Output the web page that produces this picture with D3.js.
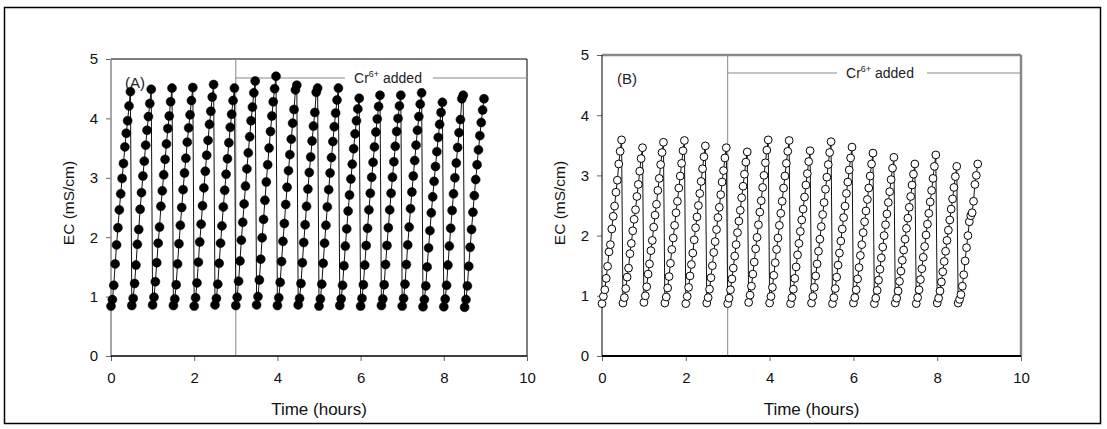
<!DOCTYPE html>
<html><head><meta charset="utf-8">
<script src="https://cdn.jsdelivr.net/npm/d3@7"></script>
<style>body{margin:0;background:#fff} text{font-family:Arial,"Liberation Sans",sans-serif}</style>
</head><body><svg id="c" width="1107" height="429"></svg>
<script>
// ---- data ----
const cycleStartHours = [0,0.5,1,1.5,2,2.5,3,3.5,4,4.5,5,5.5,6,6.5,7,7.5,8,8.5];
const sampleMinutes = [0,2,4,6,8,10,12,14,16,18,20,22,24,26,28];
const xTicks = [0,2,4,6,8,10];
const yTicks = [0,1,2,3,4,5];
const crAddedHour = 3;

// Panel A: EC (mS/cm), one row per cycle
const ecA = [
 [0.84,0.95,1.19,1.55,1.87,2.16,2.46,2.73,2.99,3.24,3.52,3.75,3.96,4.21,4.45],
 [0.85,0.97,1.22,1.53,1.88,2.13,2.47,2.75,3.03,3.28,3.55,3.80,4.03,4.25,4.49],
 [0.86,0.99,1.25,1.57,1.90,2.17,2.52,2.78,3.05,3.31,3.57,3.83,4.04,4.28,4.51],
 [0.85,0.96,1.20,1.55,1.89,2.20,2.50,2.80,3.08,3.33,3.60,3.84,4.06,4.30,4.52],
 [0.84,0.98,1.23,1.58,1.92,2.22,2.53,2.83,3.11,3.38,3.63,3.90,4.12,4.36,4.57],
 [0.86,0.97,1.21,1.56,1.90,2.19,2.51,2.79,3.06,3.32,3.59,3.85,4.07,4.30,4.51],
 [0.85,0.99,1.26,1.60,1.95,2.25,2.56,2.86,3.15,3.42,3.69,3.96,4.19,4.43,4.63],
 [0.86,1.00,1.28,1.63,1.99,2.30,2.62,2.93,3.22,3.50,3.78,4.04,4.28,4.50,4.71],
 [0.85,0.98,1.24,1.59,1.93,2.23,2.55,2.84,3.12,3.39,3.65,3.92,4.15,4.48,4.56],
 [0.86,0.97,1.22,1.57,1.91,2.21,2.52,2.81,3.09,3.35,3.62,3.87,4.10,4.44,4.51],
 [0.84,0.96,1.21,1.56,1.90,2.20,2.51,2.80,3.08,3.34,3.61,3.86,4.09,4.31,4.51],
 [0.85,0.96,1.19,1.52,1.85,2.14,2.44,2.71,2.98,3.23,3.49,3.74,3.96,4.16,4.34],
 [0.84,0.97,1.20,1.53,1.86,2.15,2.46,2.74,3.01,3.26,3.52,3.77,3.99,4.20,4.39],
 [0.85,0.96,1.20,1.54,1.86,2.16,2.46,2.74,3.01,3.27,3.53,3.78,4.00,4.21,4.39],
 [0.84,0.97,1.21,1.54,1.87,2.17,2.48,2.76,3.03,3.29,3.55,3.80,4.03,4.24,4.43],
 [0.83,0.95,1.18,1.50,1.82,2.11,2.41,2.68,2.94,3.19,3.44,3.68,3.90,4.10,4.27],
 [0.83,0.96,1.19,1.53,1.85,2.15,2.45,2.73,3.00,3.25,3.51,3.76,3.98,4.33,4.39],
 [0.82,0.95,1.18,1.51,1.83,2.13,2.42,2.70,2.97,3.22,3.47,3.71,3.93,4.14,4.33]
];

// Panel B: EC (mS/cm), one row per cycle
const ecB = [
 [0.87,0.99,1.10,1.29,1.49,1.73,1.85,2.11,2.32,2.49,2.72,2.92,3.19,3.40,3.59],
 [0.88,0.97,1.12,1.31,1.46,1.70,1.87,2.08,2.27,2.43,2.65,2.85,3.07,3.28,3.46],
 [0.89,1.00,1.15,1.36,1.53,1.75,1.92,2.14,2.34,2.52,2.75,2.95,3.18,3.38,3.55],
 [0.88,0.98,1.13,1.32,1.54,1.77,1.96,2.17,2.38,2.57,2.79,2.99,3.20,3.41,3.58],
 [0.87,0.99,1.14,1.33,1.52,1.71,1.93,2.13,2.31,2.50,2.70,2.90,3.11,3.31,3.49],
 [0.88,0.97,1.11,1.30,1.50,1.72,1.90,2.10,2.30,2.47,2.68,2.89,3.08,3.29,3.46],
 [0.87,0.96,1.10,1.28,1.46,1.66,1.85,2.05,2.24,2.42,2.63,2.82,3.02,3.22,3.39],
 [0.89,1.01,1.16,1.36,1.56,1.78,1.97,2.18,2.39,2.58,2.80,3.00,3.21,3.42,3.59],
 [0.88,0.99,1.14,1.34,1.55,1.77,1.96,2.17,2.37,2.57,2.79,2.99,3.20,3.40,3.58],
 [0.87,0.97,1.11,1.29,1.48,1.68,1.87,2.07,2.26,2.44,2.64,2.84,3.03,3.23,3.41],
 [0.88,0.99,1.14,1.33,1.53,1.74,1.94,2.15,2.35,2.55,2.77,2.97,3.18,3.38,3.56],
 [0.87,0.97,1.12,1.31,1.51,1.71,1.91,2.11,2.30,2.49,2.70,2.89,3.09,3.29,3.47],
 [0.88,0.97,1.10,1.28,1.47,1.67,1.85,2.05,2.23,2.41,2.60,2.79,2.99,3.19,3.37],
 [0.87,0.96,1.09,1.26,1.44,1.63,1.81,2.00,2.18,2.36,2.55,2.73,2.93,3.12,3.30],
 [0.88,0.96,1.08,1.24,1.41,1.59,1.76,1.94,2.12,2.29,2.47,2.65,2.84,3.02,3.19],
 [0.87,0.97,1.10,1.27,1.45,1.64,1.82,2.01,2.19,2.37,2.56,2.75,2.95,3.15,3.34],
 [0.88,0.96,1.08,1.23,1.40,1.57,1.74,1.92,2.09,2.26,2.44,2.61,2.80,2.98,3.15],
 [0.88,0.94,1.02,1.16,1.35,1.58,1.80,2.00,2.23,2.33,2.38,2.57,2.85,3.00,3.19]
];

// ---- drawing ----
const svg = d3.select('#c');
svg.append('rect').attr('x',4.5).attr('y',7.5).attr('width',1096).attr('height',416)
  .attr('fill','none').attr('stroke','#000').attr('stroke-width',1.5);

function toPoints(rows){
  const pts = [];
  rows.forEach((row,i)=>row.forEach((v,j)=>pts.push({t:cycleStartHours[i]+sampleMinutes[j]/60, v})));
  return pts;
}

function panel(o){
  const x = d3.scaleLinear().domain([0,10]).range([o.x0,o.x1]);
  const y = d3.scaleLinear().domain([0,5]).range([o.yb,o.yt]);
  const g = svg.append('g');
  g.append('line').attr('x1',o.x0).attr('x2',o.x1).attr('y1',o.yt).attr('y2',o.yt)
    .attr('stroke',o.topColor).attr('stroke-width',o.topW);
  g.append('line').attr('x1',o.x1).attr('x2',o.x1).attr('y1',o.yt).attr('y2',o.yb)
    .attr('stroke',o.topColor).attr('stroke-width',o.topW);
  g.append('line').attr('x1',x(crAddedHour)).attr('x2',x(crAddedHour)).attr('y1',o.yt).attr('y2',o.yb)
    .attr('stroke','#888').attr('stroke-width',1);
  g.append('line').attr('x1',x(crAddedHour)).attr('x2',o.gapL).attr('y1',o.crY).attr('y2',o.crY)
    .attr('stroke','#888').attr('stroke-width',1);
  g.append('line').attr('x1',o.gapR).attr('x2',o.x1).attr('y1',o.crY).attr('y2',o.crY)
    .attr('stroke','#888').attr('stroke-width',1);
  const ct = g.append('text').attr('x',o.crTx).attr('y',o.crY+5).attr('text-anchor','middle')
    .attr('font-size',14).attr('fill','#222');
  ct.append('tspan').text('Cr');
  ct.append('tspan').attr('font-size',9).attr('dy',-6).text('6+');
  ct.append('tspan').attr('dy',6).text(' added');
  g.append('text').attr('x',o.labX).attr('y',o.labY).attr('font-size',15).attr('fill','#222').text(o.label);

  const ya = g.append('g').attr('transform',`translate(${o.x0},0)`)
    .call(d3.axisLeft(y).tickValues(yTicks).tickSize(5).tickPadding(8).tickFormat(d3.format('d')));
  ya.select('.domain').remove();
  ya.selectAll('line').attr('stroke','#666');
  ya.selectAll('text').attr('font-size',15).attr('fill','#111').style('font-family','Arial');
  const xa = g.append('g').attr('transform',`translate(0,${o.yb})`)
    .call(d3.axisBottom(x).tickValues(xTicks).tickSize(5).tickPadding(11).tickFormat(d3.format('d')));
  xa.select('.domain').remove();
  xa.selectAll('line').attr('stroke','#666');
  xa.selectAll('text').attr('font-size',15).attr('fill','#111').style('font-family','Arial');
  g.append('line').attr('x1',o.x0).attr('x2',o.x0).attr('y1',o.yt).attr('y2',o.yb)
    .attr('stroke',o.leftColor).attr('stroke-width',o.leftW);
  g.append('line').attr('x1',o.x0).attr('x2',o.x1).attr('y1',o.yb).attr('y2',o.yb)
    .attr('stroke','#000').attr('stroke-width',o.botW);

  g.append('text').attr('transform',`translate(${o.x0-37},${o.ytitleY}) rotate(-90)`)
    .attr('text-anchor','middle').attr('font-size',15.5).attr('fill','#111').text('EC (mS/cm)');
  g.append('text').attr('x',(o.x0+o.x1)/2).attr('y',415).attr('text-anchor','middle')
    .attr('font-size',17).attr('fill','#111').text('Time (hours)');

  const pts = toPoints(o.data);
  g.append('path').datum(pts).attr('fill','none').attr('stroke','#111').attr('stroke-width',1)
    .attr('d',d3.line().x(d=>x(d.t)).y(d=>y(d.v)));
  g.selectAll('circle.p').data(pts).join('circle')
    .attr('cx',d=>x(d.t)).attr('cy',d=>y(d.v)).attr('r',o.r)
    .attr('fill',o.filled?'#000':'#fff').attr('stroke','#000').attr('stroke-width',o.filled?0.5:1);
}

panel({x0:111,x1:527,yt:59,yb:356,data:ecA,filled:true,r:4.5,
  topColor:'#000',topW:1,leftColor:'#888',leftW:1.5,botW:1.5,
  crY:78,gapL:345,gapR:433,crTx:388,label:'(A)',labX:125,labY:88,ytitleY:203});
panel({x0:602,x1:1021,yt:55,yb:356,data:ecB,filled:false,r:3.9,
  topColor:'#888',topW:2.5,leftColor:'#000',leftW:1,botW:2,
  crY:73,gapL:837,gapR:927,crTx:880,label:'(B)',labX:617,labY:84,ytitleY:203});
</script></body></html>
